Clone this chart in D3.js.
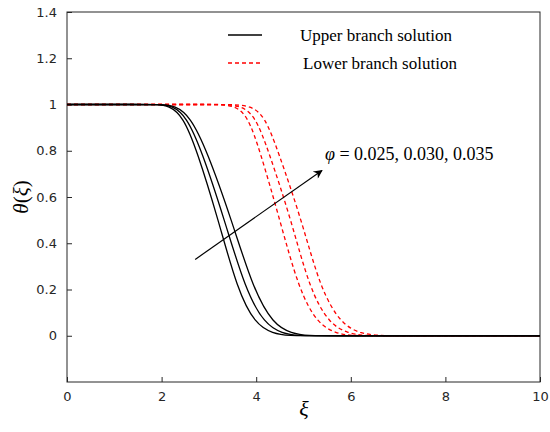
<!DOCTYPE html>
<html><head><meta charset="utf-8">
<script src="https://cdn.jsdelivr.net/npm/d3@7"></script>
<style>body{margin:0;background:#fff}</style></head>
<body><svg id="c" width="550" height="432"></svg>
<script>
const thetaLevels = [1,1,1,0.995,0.95,0.8,0.5,0.2,0.05,0.01,0,0,0];
const upper1 = [0,1.5,1.9,2.15,2.45,2.75,3.2,3.6,3.98,4.35,4.7,5.2,10];
const upper2 = [0,1.5,1.95,2.22,2.52,2.85,3.33,3.77,4.18,4.55,4.9,5.4,10];
const upper3 = [0,1.5,2.0,2.28,2.6,2.96,3.48,3.94,4.36,4.75,5.1,5.6,10];
const lower1 = [0,2.8,3.2,3.55,3.82,4.08,4.5,4.9,5.3,5.7,6.0,6.5,10];
const lower2 = [0,2.9,3.3,3.68,3.98,4.26,4.74,5.13,5.55,5.95,6.3,6.8,10];
const lower3 = [0,3.1,3.5,3.88,4.18,4.46,4.96,5.36,5.8,6.2,6.6,7.1,10];
const xTicks = [0,2,4,6,8,10];
const yTicks = [0,0.2,0.4,0.6,0.8,1,1.2,1.4];
const arrow = [[2.71,0.33],[5.39,0.715]];

const svg = d3.select("#c");
const L=67,R=540,T=12,B=382;
const x = d3.scaleLinear().domain([0,10]).range([L,R]);
const y = d3.scaleLinear().domain([-0.2,1.4]).range([B,T]);
const defs = svg.append("defs");
defs.append("clipPath").attr("id","cp").append("rect").attr("x",L).attr("y",T).attr("width",R-L).attr("height",B-T);
defs.append("marker").attr("id","ah").attr("viewBox","0 0 10 10").attr("refX",9).attr("refY",5)
  .attr("markerWidth",11).attr("markerHeight",9).attr("orient","auto").attr("markerUnits","userSpaceOnUse")
  .append("path").attr("d","M0,0 L10,5 L0,10 L3,5 Z").attr("fill","#000");

const fs = "13px 'DejaVu Sans', sans-serif";
const ax = svg.append("g").attr("transform",`translate(0,${B})`).call(d3.axisBottom(x).tickValues(xTicks).tickSizeInner(-5).tickSizeOuter(0).tickPadding(10));
const ay = svg.append("g").attr("transform",`translate(${L},0)`).call(d3.axisLeft(y).tickValues(yTicks).tickSizeInner(-5).tickSizeOuter(0).tickPadding(10).tickFormat(d3.format("~g")));
[ax,ay].forEach(g=>{g.selectAll("text").style("font",fs).attr("fill","#262626");g.selectAll("line").attr("stroke","#262626");g.select(".domain").remove();});
svg.append("rect").attr("x",L).attr("y",T).attr("width",R-L).attr("height",B-T).attr("fill","none").attr("stroke","#262626").attr("stroke-width",1);

const line = d3.line().x(d=>x(d[0])).y(d=>y(d[1])).curve(d3.curveBasis);
const g = svg.append("g").attr("clip-path","url(#cp)");
[lower1,lower2,lower3].forEach(xs=>g.append("path").attr("d",line(xs.map((v,i)=>[v,thetaLevels[i]])))
  .attr("fill","none").attr("stroke","#ff0000").attr("stroke-width",1.3).attr("stroke-dasharray","4,3"));
[upper1,upper2,upper3].forEach(xs=>g.append("path").attr("d",line(xs.map((v,i)=>[v,thetaLevels[i]])))
  .attr("fill","none").attr("stroke","#000").attr("stroke-width",1.3));

svg.append("line").attr("x1",x(arrow[0][0])).attr("y1",y(arrow[0][1])).attr("x2",x(arrow[1][0])).attr("y2",y(arrow[1][1]))
  .attr("stroke","#000").attr("stroke-width",1.2).attr("marker-end","url(#ah)");
const tx = svg.append("text").attr("x",325).attr("y",160).style("font","18px 'Liberation Serif', serif");
tx.append("tspan").attr("font-style","italic").text("φ");
tx.append("tspan").text(" = 0.025, 0.030, 0.035");

const lf = "17px 'Liberation Serif', serif";
svg.append("line").attr("x1",228).attr("x2",262).attr("y1",35).attr("y2",35).attr("stroke","#000").attr("stroke-width",1.3);
svg.append("line").attr("x1",228).attr("x2",262).attr("y1",63).attr("y2",63).attr("stroke","#ff0000").attr("stroke-width",1.3).attr("stroke-dasharray","4,3");
svg.append("text").attr("x",300).attr("y",41).style("font",lf).text("Upper branch solution");
svg.append("text").attr("x",303).attr("y",69).style("font",lf).text("Lower branch solution");

svg.append("text").attr("x",304).attr("y",416).attr("text-anchor","middle").style("font","italic 22px 'Liberation Serif', serif").text("ξ");
const yl = svg.append("text").attr("transform","translate(28,197) rotate(-90)").attr("text-anchor","middle").style("font","21px 'Liberation Serif', serif");
yl.append("tspan").attr("font-style","italic").text("θ");
yl.append("tspan").text("(");
yl.append("tspan").attr("font-style","italic").text("ξ");
yl.append("tspan").text(")");
</script></body></html>
